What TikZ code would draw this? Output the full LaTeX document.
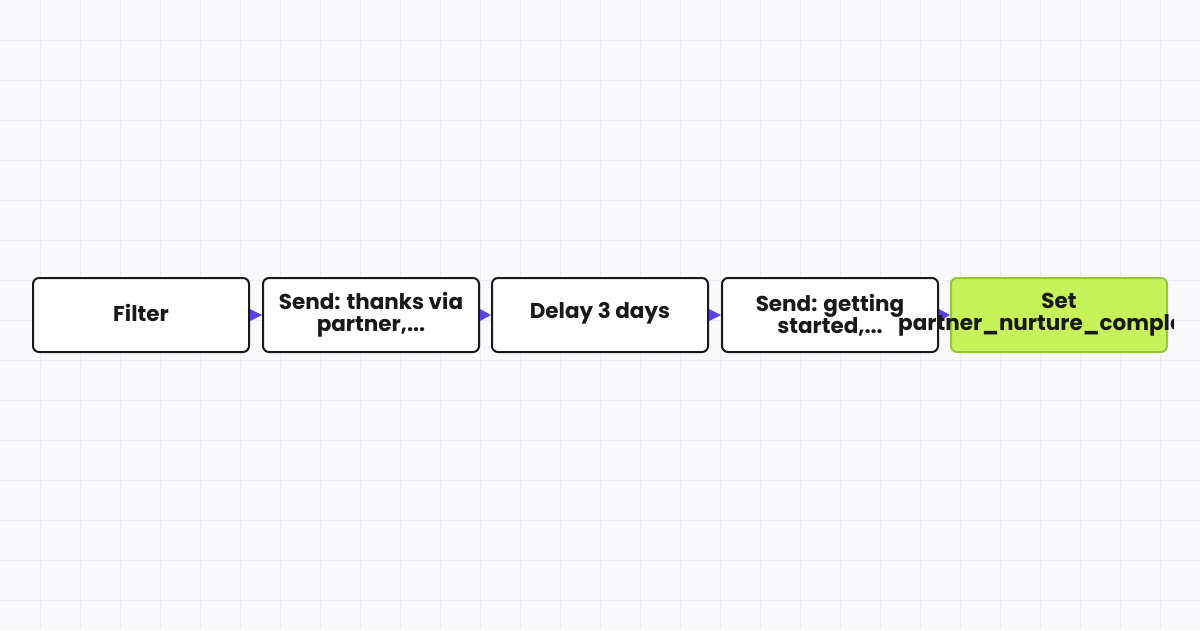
\documentclass[tikz,border=0pt]{standalone}
\usepackage{fontspec}
\setmainfont{Poppins}
\begin{document}
\begin{tikzpicture}[x=1pt,y=-1pt,
  box/.style={draw=black!90,line width=2pt,rounded corners=6pt,fill=white,minimum width=216pt,minimum height=74pt,inner sep=0pt},
  lbl/.style={font=\fontsize{21.5}{22}\selectfont\bfseries,text=black!90,align=center,inner sep=0pt},
  arr/.style={fill=arrowc,draw=none}]
\definecolor{bgc}{HTML}{F9F9FB}
\definecolor{gridc}{HTML}{ECEAF6}
\definecolor{arrowc}{HTML}{5B3FE0}
\definecolor{greenf}{HTML}{C6F25A}
\definecolor{greend}{HTML}{9AC43A}
\useasboundingbox (0,0) rectangle (1200,630);
\fill[bgc] (0,0) rectangle (1200,630);
\foreach \i in {40,80,...,1160} \draw[gridc,line width=1pt] (\i,0) -- (\i,630);
\foreach \j in {40,80,...,600} \draw[gridc,line width=1pt] (0,\j) -- (1200,\j);
\node[box] (b1) at (141,315) {};
\node[box] (b2) at (371,315) {};
\node[box] (b3) at (600,315) {};
\node[box] (b4) at (830,315) {};
\node[box,draw=greend,fill=greenf] (b5) at (1059,315) {};
\foreach \a/\b in {b1/b2,b2/b3,b3/b4,b4/b5}{
  \coordinate (s) at (\a.east); \coordinate (t) at (\b.west);
  \fill[arrowc] ([yshift=-6pt]s) -- ([yshift=6pt]s) -- (t) -- cycle;
}
\node[lbl] (t1) at (141,313) {Filter};
\node[lbl] (t2) at (b2) {Send: thanks via\\partner,...};
\node[lbl] (t3) at (600,313) {Delay 3 days};
\node[lbl] (t4) at (b4) {Send: getting\\started,...};
\begin{scope}
\clip (880,270) rectangle (1173,360);
\node[lbl] (t5) at (b5) {Set\\partner\_nurture\_completed};
\end{scope}
\end{tikzpicture}
\end{document}
